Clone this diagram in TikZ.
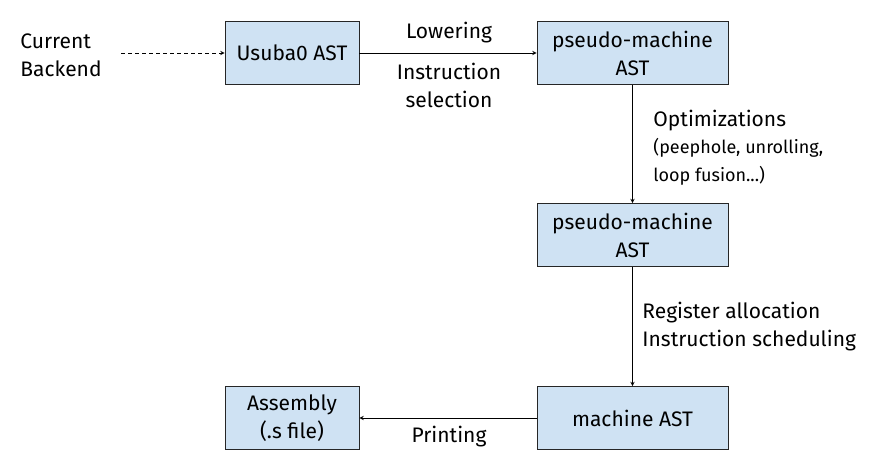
\documentclass[tikz,border=0pt]{standalone}
\usepackage{fontspec}
\setmainfont{Fira Sans}
\usepackage{xcolor}
\usepackage{tikz}
\usetikzlibrary{positioning}

\definecolor{boxblue}{HTML}{CFE2F3}

\newcommand{\smalltxt}{\fontsize{18}{27}\selectfont}

\begin{document}
\begin{tikzpicture}[x=1pt,y=-1pt,>=stealth,line width=0.9pt,
  font=\fontsize{21}{28}\selectfont]

\tikzstyle{stage}=[rectangle,draw=black!85,fill=boxblue,align=center,
  minimum width=191pt,minimum height=63pt,inner sep=2pt]
\tikzstyle{small}=[stage,minimum width=134pt]
\tikzstyle{lbl}=[inner sep=0pt,align=left]

\useasboundingbox (0,0) rectangle (870,471);

\node[lbl,anchor=west] (cur) at (20,55) {Current\\Backend};
\node[small] (usuba) at (292,53) {Usuba0 AST};
\node[stage] (pm1) at (632.5,53) {pseudo-machine\\AST};
\node[stage] (pm2) at (632.5,235) {pseudo-machine\\AST};
\node[stage] (mach) at (632.5,418) {machine AST};
\node[small] (asm) at (292,418) {Assembly\\(.s file)};

\coordinate (start) at (121,53);

% labels
\node[lbl,align=center] (low) at (449,33) {Lowering};
\node[lbl,align=center] (sel) at (449,85) {Instruction\\selection};
\node[lbl,anchor=north west] (opt) at (653,110)
  {Optimizations\\[-1pt]\smalltxt (peephole, unrolling,\\\smalltxt loop fusion...)};
\node[lbl,anchor=west] (reg) at (642,327) {Register allocation\\Instruction scheduling};
\node[lbl,align=center] (prt) at (449,437) {Printing};

\draw[->,dash pattern=on 4pt off 3pt] (start) -- (usuba);

\foreach \a/\b in {usuba/pm1,pm1/pm2,pm2/mach,mach/asm}
    \draw[->] (\a) -- (\b);

\end{tikzpicture}
\end{document}
